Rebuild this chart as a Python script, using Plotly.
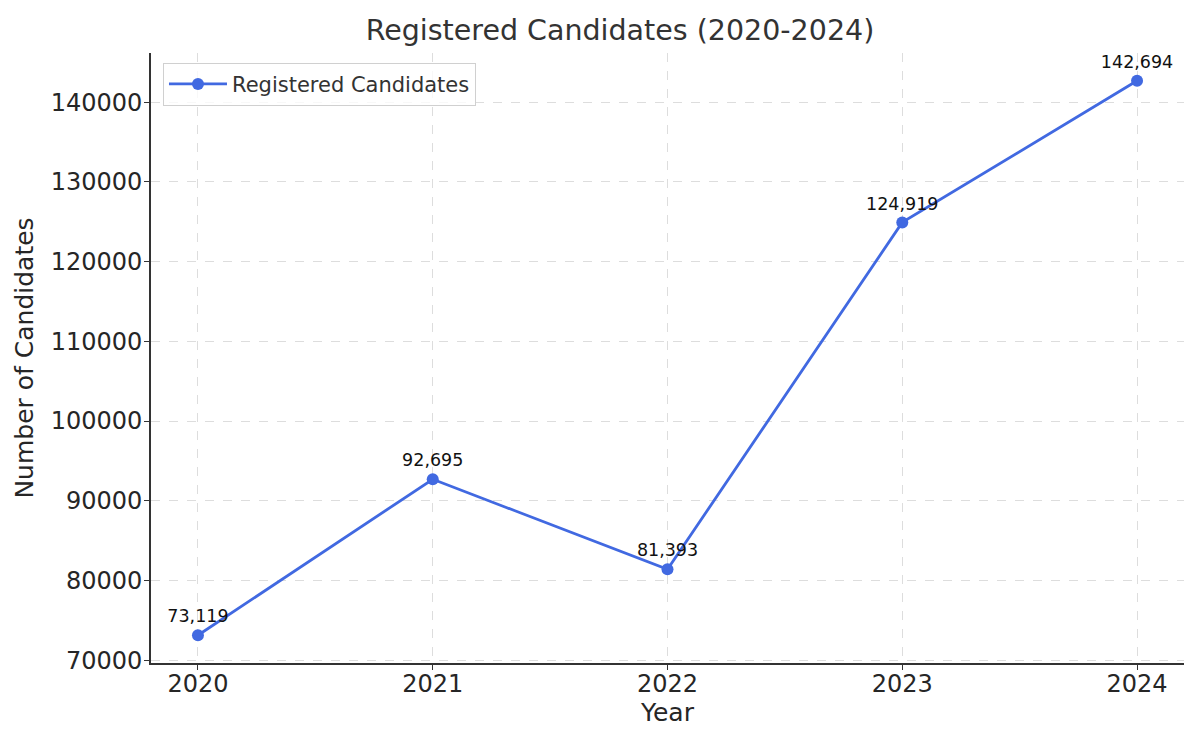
import plotly.graph_objects as go

years = [2020, 2021, 2022, 2023, 2024]
candidates = [73119, 92695, 81393, 124919, 142694]
labels = [f"{v:,}" for v in candidates]
y_ticks = [70000, 80000, 90000, 100000, 110000, 120000, 130000, 140000]

fig = go.Figure()
fig.add_trace(go.Scatter(
    x=years, y=candidates, mode="lines+markers+text",
    name="Registered Candidates",
    line=dict(color="#4169E1", width=2.8),
    marker=dict(color="#4169E1", size=12),
    text=labels, textposition="top center",
    textfont=dict(family="DejaVu Sans", size=17.5, color="#111111"),
))

fig.update_layout(
    width=1192, height=732,
    margin=dict(l=143, r=16, t=45, b=77),
    paper_bgcolor="white", plot_bgcolor="white",
    font=dict(family="DejaVu Sans", color="#333333"),
    title=dict(text="Registered Candidates (2020-2024)", xref="paper", x=0.454, xanchor="center",
               y=0.97, yanchor="middle", font=dict(size=28.5, color="#333333")),
    showlegend=True,
    legend=dict(x=0.0116, y=0.984, xanchor="left", yanchor="top",
                bordercolor="#d0d0d0", borderwidth=1, bgcolor="rgba(255,255,255,0.8)",
                itemwidth=58,
                font=dict(size=21, color="#333333")),
)
fig.update_xaxes(
    range=[2019.8, 2024.2], tickvals=years, ticktext=[str(y) for y in years],
    showline=True, linecolor="#333333", linewidth=1.8,
    ticks="outside", ticklen=5, tickcolor="#333333",
    ticklabelstandoff=-7,
    showgrid=True, gridcolor="#dddddd", griddash="dash", gridwidth=1,
    tickfont=dict(size=24, color="#262626"),
    title=dict(text="Year", font=dict(size=25, color="#262626"), standoff=6),
    zeroline=False,
)
fig.update_yaxes(
    range=[69640, 146173], tickvals=y_ticks,
    tickformat="d",
    showline=True, linecolor="#333333", linewidth=1.8,
    ticks="outside", ticklen=5, tickcolor="#333333",
    ticklabelstandoff=-3,
    showgrid=True, gridcolor="#dddddd", griddash="dash", gridwidth=1,
    tickfont=dict(size=24, color="#262626"),
    title=dict(text="Number of Candidates", font=dict(size=25, color="#262626"), standoff=10),
    zeroline=False,
)

fig.write_html("out.html")
